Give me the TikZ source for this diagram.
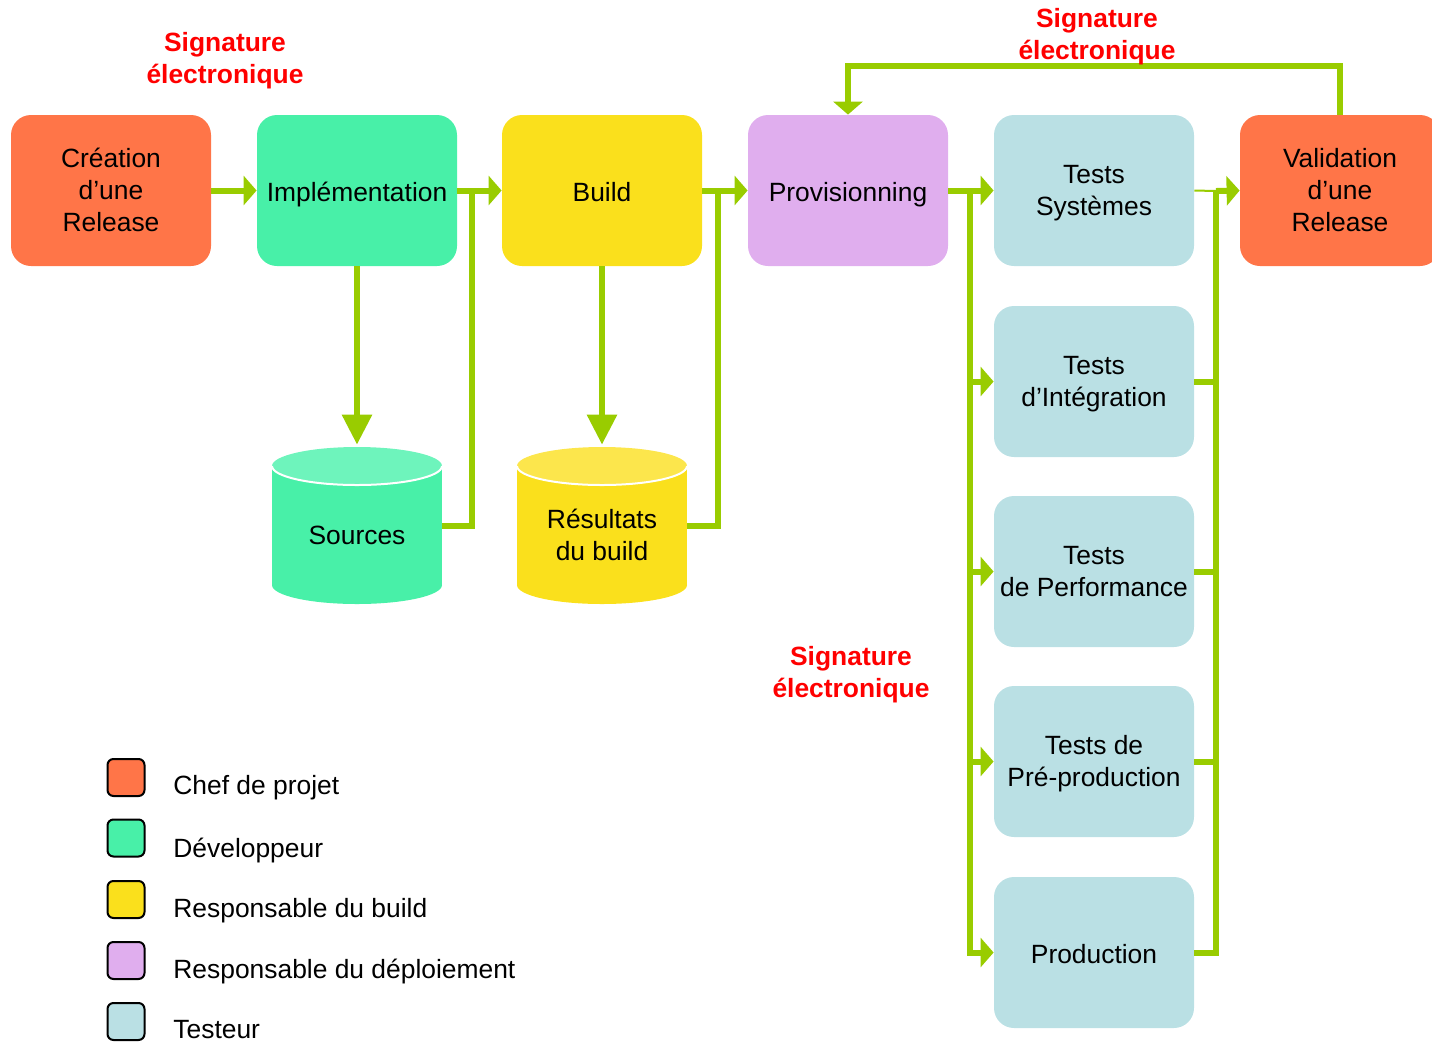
\documentclass[tikz,border=0pt]{standalone}
\usepackage{fontspec}
\setmainfont{Liberation Sans}
\usetikzlibrary{arrows.meta}
\definecolor{cOrange}{HTML}{FF7548}
\definecolor{cGreen}{HTML}{48F0A8}
\definecolor{cGreenL}{HTML}{6EF4BC}
\definecolor{cYellow}{HTML}{FAE01C}
\definecolor{cYellowL}{HTML}{FCE64C}
\definecolor{cPurple}{HTML}{E0AEEE}
\definecolor{cTeal}{HTML}{BAE0E4}
\definecolor{cLine}{HTML}{99CC00}
\definecolor{cRed}{HTML}{FF0000}
\begin{document}
\begin{tikzpicture}[x=0.5pt,y=-0.5pt,
 font=\fontsize{13.2pt}{16pt}\selectfont,
 box/.style={rounded corners=10pt, minimum width=100pt, minimum height=75.5pt, inner sep=0pt},
 boxlbl/.style={align=center, inner sep=0pt, yshift=-2.2pt, execute at begin node=\strut, execute at end node=\strut},
 cylnode/.style={minimum width=85pt, minimum height=78.5pt, inner sep=0pt},
 conn/.style={draw=cLine, line width=3pt},
 thinconn/.style={draw=cLine, line width=1pt},
 arr/.style={conn, -{Triangle[length=6.5pt,width=14.5pt]}},
 darr/.style={conn, -{Triangle[length=15pt,width=14.5pt]}},
 sig/.style={text=cRed, font=\fontsize{13.2pt}{16pt}\selectfont\bfseries, align=center, inner sep=0pt},
 leg/.style={draw=black, line width=1pt, rounded corners=3pt, minimum width=18.5pt, minimum height=18.5pt, inner sep=0pt},
 legtext/.style={anchor=base west, inner sep=0pt},
 cyltext/.style={align=center, inner sep=0pt}]

\useasboundingbox (0,0) rectangle (1432,1041);

% main boxes
\node[box, fill=cOrange, label={[boxlbl]center:Création\\d’une\\Release}] (crea) at (111,190.5) {};
\node[box, fill=cGreen, label={[boxlbl]center:Implémentation}] (impl) at (357,190.5) {};
\node[box, fill=cYellow, label={[boxlbl]center:Build}] (build) at (602,190.5) {};
\node[box, fill=cPurple, label={[boxlbl]center:Provisionning}] (prov) at (848,190.5) {};
\node[box, fill=cTeal, label={[boxlbl]center:Tests\\Systèmes}] (tsys) at (1094,190.5) {};
\node[box, fill=cOrange, label={[boxlbl]center:Validation\\d’une\\Release}] (valid) at (1340,190.5) {};
\node[box, fill=cTeal, label={[boxlbl]center:Tests\\d’Intégration}] (tint) at (1094,381.5) {};
\node[box, fill=cTeal, label={[boxlbl]center:Tests\\de Performance}] (tperf) at (1094,571.5) {};
\node[box, fill=cTeal, label={[boxlbl]center:Tests de\\Pré-production}] (tpre) at (1094,761.5) {};
\node[box, fill=cTeal, label={[boxlbl]center:Production}] (prod) at (1094,952.5) {};

% cylinders
\fill[cGreen] (272,466) rectangle (442,585);
\fill[cGreen] (357,585) ellipse [x radius=42.5pt, y radius=9.5pt];
\fill[cGreenL] (357,466) ellipse [x radius=42.5pt, y radius=9.5pt];
\draw[white, line width=1pt] (272,466) arc[start angle=180, end angle=360, x radius=42.5pt, y radius=9.5pt];
\node[cylnode] (src) at (357,525.5) {};
\node[cyltext] (srct) at (357,535) {Sources};

\fill[cYellow] (517,466) rectangle (687,585);
\fill[cYellow] (602,585) ellipse [x radius=42.5pt, y radius=9.5pt];
\fill[cYellowL] (602,466) ellipse [x radius=42.5pt, y radius=9.5pt];
\draw[white, line width=1pt] (517,466) arc[start angle=180, end angle=360, x radius=42.5pt, y radius=9.5pt];
\node[cylnode] (res) at (602,525.5) {};
\node[cyltext] (rest) at (602,535) {Résultats\\du build};

% junction coordinates
\coordinate (j1) at (472,191);
\coordinate (j2) at (718,191);
\coordinate (bl) at (970,191);
\coordinate (br) at (1216,191);
\coordinate (fb) at (1094,66);

% connectors
\draw[arr] (crea.east) -- (impl.west);
\draw[arr] (impl.east) -- (build.west);
\draw[arr] (build.east) -- (prov.west);
\draw[arr] (prov.east) -- (tsys.west);
\draw[darr] (impl.south) -- ([yshift=1pt]src.north);
\draw[darr] (build.south) -- ([yshift=1pt]res.north);
\draw[conn] (src.east) -| (j1);
\draw[conn] (res.east) -| (j2);

\draw[arr] (bl) |- (prod.west);
\draw[arr] (bl |- tint.west) -- (tint.west);
\draw[arr] (bl |- tperf.west) -- (tperf.west);
\draw[arr] (bl |- tpre.west) -- (tpre.west);

\draw[conn] (prod.east) -| (br);
\draw[conn] (tint.east) -- (br |- tint.east);
\draw[conn] (tperf.east) -- (br |- tperf.east);
\draw[conn] (tpre.east) -- (br |- tpre.east);
\draw[thinconn] (tsys.east) -- (br);
\draw[arr] (br) -- (valid.west);

\draw[arr] (valid.north) |- (fb) -| (prov.north);

% signature labels
\node[sig] (sig1) at (225,61) {Signature\\électronique};
\node[sig] (sig2) at (1097,37) {Signature\\électronique};
\node[sig] (sig3) at (851,675) {Signature\\électronique};

% legend
\node[leg, fill=cOrange] (l1) at (126,777.5) {};
\node[leg, fill=cGreen] (l2) at (126,838) {};
\node[leg, fill=cYellow] (l3) at (126,899.5) {};
\node[leg, fill=cPurple] (l4) at (126,960.5) {};
\node[leg, fill=cTeal] (l5) at (126,1021.5) {};
\node[legtext] (t1) at (173,794) {Chef de projet};
\node[legtext] (t2) at (173,857) {Développeur};
\node[legtext] (t3) at (173,917) {Responsable du build};
\node[legtext] (t4) at (173,978) {Responsable du déploiement};
\node[legtext] (t5) at (173,1038) {Testeur};
\end{tikzpicture}
\end{document}
